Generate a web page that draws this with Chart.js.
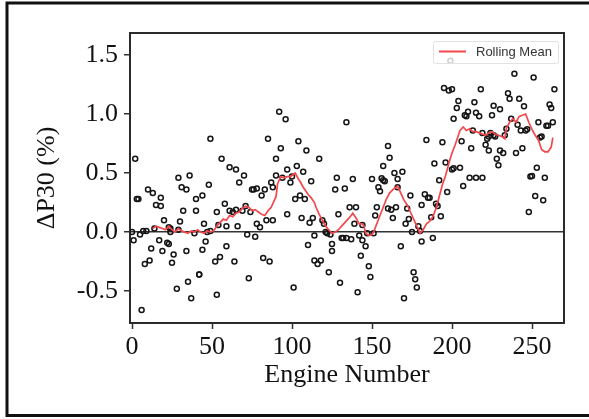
<!DOCTYPE html>
<html>
<head>
<meta charset="utf-8">
<title>Engine ΔP30</title>
<script src="https://cdn.jsdelivr.net/npm/chart.js@4.4.1/dist/chart.umd.min.js"></script>
<style>
    html, body { margin: 0; padding: 0; background: #fff; }
    canvas { display: block; }
</style>
</head>
<body>
<canvas id="p30Chart" width="589" height="419"></canvas>
<script>
// Engine number of each measurement and its ΔP30 (%)
const engines = [
    0, 1, 2, 3, 4, 5, 6, 7, 8, 9, 10, 11, 12, 13, 14, 15, 17, 18, 18, 19,
    20, 22, 23, 23, 24, 24, 25, 26, 28, 29, 29, 30, 31, 32, 34, 34, 35, 36, 37, 39,
    40, 40, 42, 42, 44, 44, 45, 46, 47, 48, 49, 49, 52, 53, 53, 54, 55, 56, 58, 59,
    59, 61, 61, 63, 64, 65, 65, 66, 67, 69, 70, 71, 72, 73, 74, 75, 76, 77, 78, 78,
    80, 81, 82, 83, 84, 85, 86, 87, 88, 88, 90, 90, 92, 93, 94, 96, 97, 97, 99, 100,
    101, 102, 103, 104, 105, 106, 107, 108, 109, 110, 111, 112, 113, 114, 114, 116, 117, 118, 119, 120,
    121, 122, 123, 124, 125, 125, 127, 128, 129, 130, 131, 132, 133, 134, 134, 136, 137, 138, 139, 140,
    141, 142, 143, 144, 144, 146, 147, 148, 149, 150, 151, 152, 153, 154, 155, 156, 157, 157, 158, 160,
    160, 161, 162, 163, 164, 165, 166, 166, 168, 169, 170, 171, 172, 173, 174, 175, 176, 177, 178, 179,
    180, 181, 181, 183, 184, 185, 186, 187, 188, 189, 190, 191, 192, 193, 194, 195, 196, 197, 198, 199,
    200, 200, 201, 201, 203, 204, 205, 206, 207, 208, 209, 210, 211, 212, 213, 214, 215, 215, 217, 218,
    219, 219, 221, 222, 223, 223, 224, 225, 226, 226, 227, 228, 229, 230, 230, 232, 233, 234, 235, 236,
    237, 239, 240, 241, 242, 243, 244, 245, 246, 247, 248, 249, 250, 251, 252, 253, 254, 255, 256, 257,
    258, 259, 260, 261, 262, 263, 264
];
const deltaP30 = [
    0.00, -0.07, 0.62, 0.28, 0.28, -0.02, -0.66, 0.01, -0.27, 0.01, 0.36, -0.24, -0.14, 0.33, 0.03, 0.23, -0.07, 0.29, 0.22, -0.16,
    0.10, -0.09, -0.10, 0.04, 0.03, 0.00, -0.26, -0.19, -0.48, 0.46, 0.02, 0.09, 0.38, 0.18, 0.36, -0.16, -0.42, 0.48, -0.56, -0.01,
    0.28, 0.18, -0.36, -0.36, 0.31, -0.15, 0.07, -0.08, 0.00, 0.40, 0.01, 0.79, -0.25, -0.53, 0.17, 0.06, -0.21, 0.62, 0.24, -0.12,
    0.05, 0.18, 0.55, 0.17, -0.25, 0.19, 0.53, 0.05, 0.42, 0.18, 0.48, 0.22, -0.02, -0.39, 0.17, 0.36, 0.36, -0.04, 0.37, 0.07,
    0.04, 0.31, -0.22, 0.36, 0.10, 0.79, -0.25, 0.42, 0.10, 0.38, 0.62, 0.48, 1.02, 0.71, 0.46, 0.955, 0.53, 0.15, 0.42, 0.47,
    -0.47, 0.28, 0.56, 0.77, 0.31, 0.12, 0.51, 0.28, 0.69, -0.11, 0.08, 0.43, 0.12, -0.03, -0.24, -0.27, 0.62, -0.24, 0.10, 0.07,
    0.00, -0.01, -0.34, -0.02, -0.10, -0.16, 0.36, 0.46, 0.15, -0.43, -0.05, -0.05, 0.37, 0.93, -0.05, 0.21, -0.06, 0.45, 0.07, 0.21,
    -0.51, -0.03, -0.20, -0.07, 0.06, -0.12, -0.01, -0.29, -0.38, 0.45, -0.01, 0.14, 0.21, 0.38, 0.345, 0.455, 0.44, 0.56, 0.43, 0.73,
    0.20, 0.63, 0.19, 0.12, 0.50, 0.21, 0.45, 0.38, -0.12, 0.51, -0.56, 0.07, 0.20, 0.11, 0.31, 0.00, -0.34, -0.40, -0.47, 0.05,
    0.01, -0.08, 0.23, 0.32, 0.78, 0.29, 0.29, 0.125, -0.05, 0.58, 0.24, 0.22, 0.44, 0.135, 0.76, 1.22, 0.59, 0.34, 1.20, 1.45,
    1.21, 0.53, 0.96, 0.54, 1.05, 1.11, 0.545, 0.77, 0.39, 0.99, 0.98, 1.02, 0.46, 0.71, 0.86, 1.10, 1.01, 0.46, 0.98, 1.21,
    0.84, 0.46, 0.74, 0.79, 0.81, 0.69, 0.84, 0.99, 1.07, 0.82, 0.81, 0.62, 0.565, 1.04, 0.69, 0.67, 0.82, 0.875, 1.175, 1.13,
    0.96, 1.34, 0.67, 0.91, 1.13, 0.86, 0.71, 1.065, 0.86, 0.87, 0.17, 0.47, 0.475, 1.31, 0.305, 0.545, 0.93, 0.80, 0.81, 0.27,
    0.46, 0.90, 0.90, 1.08, 1.05, 0.93, 1.21
];

// Rolling mean of ΔP30 along the engine sequence
const meanEngines = [
    13, 15, 17, 19, 21, 23, 25, 27, 29, 31,
    33, 35, 37, 39, 41, 43, 45, 47, 49, 51,
    53, 55, 57, 59, 61, 63, 65, 67, 69, 71,
    73, 75, 77, 79, 81, 83, 85, 87, 89, 90,
    91, 93, 95, 97, 99, 101, 102, 104, 105, 107,
    108, 110, 112, 114, 115, 117, 119, 121, 123, 125,
    127, 129, 131, 133, 135, 137, 138, 140, 142, 144,
    145, 146, 148, 150, 151, 153, 155, 157, 159, 161,
    163, 165, 166, 168, 170, 172, 174, 176, 178, 180,
    182, 184, 186, 188, 190, 192, 194, 196, 198, 200,
    202, 204, 205, 207, 209, 211, 213, 215, 217, 219,
    221, 223, 225, 227, 229, 231, 233, 234, 236, 238,
    240, 242, 244, 246, 248, 250, 252, 254, 256, 258,
    260, 262, 263
];
const rollingMean = [
    0.03, 0.05, 0.04, 0.03, 0.02, 0.05, 0.02, 0.00, 0.03, 0.01,
    0.00, -0.01, 0.01, 0.00, 0.02, 0.00, -0.01, 0.01, 0.00, 0.01,
    0.05, 0.08, 0.11, 0.10, 0.14, 0.13, 0.16, 0.17, 0.20, 0.22,
    0.21, 0.18, 0.19, 0.17, 0.15, 0.14, 0.18, 0.21, 0.27, 0.30,
    0.41, 0.47, 0.46, 0.47, 0.47, 0.49, 0.50, 0.45, 0.43, 0.38,
    0.36, 0.32, 0.29, 0.25, 0.21, 0.15, 0.10, 0.05, 0.02, -0.01,
    0.00, 0.02, 0.05, 0.08, 0.11, 0.14, 0.16, 0.12, 0.07, 0.07,
    0.05, -0.01, -0.03, -0.02, 0.00, 0.07, 0.14, 0.21, 0.28, 0.33,
    0.36, 0.38, 0.39, 0.33, 0.27, 0.23, 0.17, 0.11, 0.05, -0.01,
    0.02, 0.07, 0.09, 0.13, 0.20, 0.30, 0.40, 0.48, 0.58, 0.67,
    0.74, 0.82, 0.86, 0.89, 0.86, 0.875, 0.85, 0.85, 0.84, 0.83,
    0.82, 0.84, 0.85, 0.83, 0.82, 0.81, 0.79, 0.88, 0.93, 0.96,
    0.93, 0.98, 0.99, 1.00, 0.93, 0.87, 0.82, 0.78, 0.70, 0.68,
    0.68, 0.72, 0.80
];

const xTicks = [0, 50, 100, 150, 200, 250];
const yTicks = [-0.5, 0.0, 0.5, 1.0, 1.5];

document.addEventListener('DOMContentLoaded', function() {
    const serif = '"Liberation Serif", "Times New Roman", serif';
    const axisFont = { family: serif, size: 26 };
    const ink = '#111';

    // white page with a heavy frame around the figure, box around the plot
    const framePlugin = {
        id: 'frame',
        beforeDraw(chart) {
            const c = chart.ctx;
            c.save();
            c.fillStyle = '#fff';
            c.fillRect(0, 0, chart.width, chart.height);
            c.strokeStyle = '#111';
            c.lineWidth = 3;
            c.strokeRect(7, 3, chart.width + 10, 412.5);
            c.restore();
        },
        beforeDatasetsDraw(chart) {
            const a = chart.chartArea;
            const c = chart.ctx;
            c.save();
            c.strokeStyle = '#2b2b2b';
            c.lineWidth = 2;
            c.strokeRect(a.left, a.top, a.right - a.left, a.bottom - a.top);
            c.restore();
        }
    };

    // legend box in the top right corner of the plot
    const legendPlugin = {
        id: 'cornerLegend',
        afterDatasetsDraw(chart) {
            const ds = chart.data.datasets[0];
            const c = chart.ctx;
            const a = chart.chartArea;
            const x = a.right - 131, y = a.top + 8;
            c.save();
            c.beginPath();
            c.roundRect(x + 0.5, y + 0.5, 125, 22, 2);
            c.fillStyle = 'rgba(255,255,255,0.8)';
            c.fill();
            c.strokeStyle = '#e2e2e2';
            c.lineWidth = 1;
            c.stroke();
            c.beginPath();
            c.moveTo(x + 6, y + 10.5);
            c.lineTo(x + 33, y + 10.5);
            c.strokeStyle = ds.borderColor;
            c.lineWidth = 2;
            c.stroke();
            c.fillStyle = '#333';
            c.font = '13px "Liberation Sans", Arial, sans-serif';
            c.textBaseline = 'middle';
            c.fillText(ds.label, x + 43, y + 11.5);
            c.restore();
        }
    };

    const ctx = document.getElementById('p30Chart').getContext('2d');
    new Chart(ctx, {
        type: 'scatter',
        data: {
            datasets: [{
                type: 'line',
                label: 'Rolling Mean',
                data: meanEngines.map((e, i) => ({ x: e, y: rollingMean[i] })),
                borderColor: '#f4474c',
                borderWidth: 1.7,
                pointRadius: 0,
                tension: 0,
                fill: false,
                order: 0
            }, {
                label: 'ΔP30',
                data: engines.map((e, i) => ({ x: e, y: deltaP30[i] })),
                borderColor: '#151515',
                backgroundColor: 'rgba(0,0,0,0)',
                pointRadius: 2.5,
                pointBorderWidth: 1.5,
                pointHoverRadius: 2.5,
                order: 1
            }]
        },
        plugins: [framePlugin, legendPlugin],
        options: {
            responsive: false,
            animation: false,
            events: [],
            layout: { padding: { top: 33, right: 25, left: 0, bottom: 0 } },
            plugins: {
                legend: { display: false },
                tooltip: { enabled: false }
            },
            scales: {
                x: {
                    type: 'linear',
                    min: -1.25,
                    max: 270,
                    afterBuildTicks: function(scale) {
                        scale.ticks = xTicks.map(v => ({ value: v }));
                    },
                    afterFit: function(scale) {
                        scale.height = 96;
                    },
                    border: { display: false },
                    grid: {
                        drawOnChartArea: false,
                        tickLength: 6,
                        tickColor: '#333',
                        tickWidth: 1.5
                    },
                    ticks: {
                        color: ink,
                        font: axisFont,
                        padding: 3,
                        maxRotation: 0,
                        callback: v => String(v)
                    },
                    title: {
                        display: true,
                        text: 'Engine Number',
                        color: ink,
                        font: axisFont,
                        padding: { top: 0, bottom: 28 }
                    }
                },
                y: {
                    type: 'linear',
                    min: -0.77,
                    max: 1.686,
                    afterBuildTicks: function(scale) {
                        scale.ticks = yTicks.map(v => ({ value: v }));
                    },
                    afterFit: function(scale) {
                        scale.width = 130;
                    },
                    border: { display: false },
                    grid: {
                        drawOnChartArea: true,
                        color: c => (c.tick && c.tick.value === 0 ? '#333' : 'rgba(0,0,0,0)'),
                        lineWidth: 1.5,
                        tickLength: 6,
                        tickColor: '#333',
                        tickWidth: 1.5
                    },
                    ticks: {
                        color: ink,
                        font: axisFont,
                        padding: 6,
                        callback: v => v.toFixed(1)
                    },
                    title: {
                        display: true,
                        text: 'ΔP30 (%)',
                        color: ink,
                        font: axisFont,
                        padding: { top: 32, bottom: 0 }
                    }
                }
            }
        }
    });
});
</script>
</body>
</html>
